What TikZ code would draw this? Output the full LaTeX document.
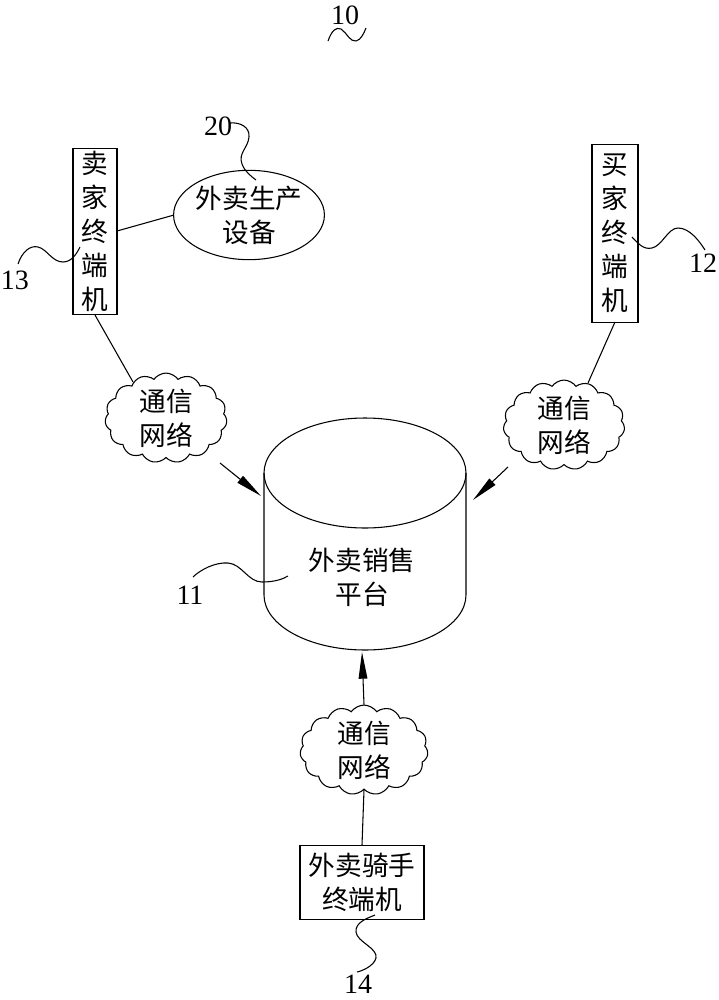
\documentclass[tikz,border=0pt]{standalone}
\usepackage{fontspec}
\setmainfont{Liberation Serif}
\newfontfamily\cjk{Noto Sans CJK SC}
\usetikzlibrary{shapes.symbols,shapes.geometric,arrows.meta}
\begin{document}
\begin{tikzpicture}[x=0.75pt,y=-0.75pt,
  wire/.style={line width=0.8pt},
  arr/.style={wire,-{Triangle[length=20pt,width=6.5pt]}},
  num/.style={font=\fontsize{21}{21}\selectfont, inner sep=0pt},
  cn/.style={font=\cjk\fontsize{20}{25.5}\selectfont, align=center, inner sep=0pt},
  box/.style={cn, draw, line width=0.8pt},
  netcloud/.style={cn, draw, line width=0.8pt, cloud, cloud puffs=15, cloud puff arc=110},
]
\useasboundingbox (0,0) rectangle (718,1000);

% nodes
\node[box, minimum width=33pt, minimum height=125pt] (seller) at (95,231.5) {卖\\家\\终\\端\\机};
\node[box, minimum width=34.5pt, minimum height=133pt] (buyer) at (615,233.5) {买\\家\\终\\端\\机};
\node[cn, draw, line width=0.8pt, ellipse, minimum width=112pt, minimum height=67pt] (prod) at (249,215) {外卖生产\\设备};
\node[netcloud, minimum width=91.5pt, minimum height=60pt] (netL) at (166,418) {通信\\网络};
\node[netcloud, minimum width=91pt, minimum height=64pt] (netR) at (564,425) {通信\\网络};
\node[netcloud, minimum width=96pt, minimum height=57pt] (netB) at (364,750) {通信\\网络};
\node[box, minimum width=93pt, minimum height=55pt] (rider) at (362,882.5) {外卖骑手\\终端机};

% platform cylinder
\draw[wire] (365,473) ellipse [x radius=101, y radius=55];
\draw[wire] (264,473) -- (264,595) .. controls (264,625.4) and (309.2,650) .. (365,650)
  .. controls (420.8,650) and (466,625.4) .. (466,595) -- (466,473);
\node[cn] (plat) at (362,577) {外卖销售\\平台};

% anchor coordinates
\coordinate (cylL) at (261,496);
\coordinate (cylR) at (473,500);
\coordinate (cylB) at (362,652);
\coordinate (netLout) at (220,463);
\coordinate (netRout) at (508,467);
\coordinate (netLin) at (133,382);
\coordinate (netRin) at (588,383);
\coordinate (sellerB) at (95,315);
\coordinate (buyerB) at (615,322);
\coordinate (sellerR) at (117,231);
\coordinate (prodL) at (174,215);

% connectors
\draw[wire] (sellerR) -- (prodL);
\draw[wire] (sellerB) -- (netLin);
\draw[wire] (buyerB) -- (netRin);
\draw[arr] (netLout) -- (cylL);
\draw[arr] (netRout) -- (cylR);
\draw[arr] (netB.north) -- (cylB);
\draw[wire] (rider.north) -- (netB.south);

% reference numerals
\node[num] (n10) at (345,15) {10};
\node[num] (n20) at (218,126) {20};
\node[num] (n13) at (15,280) {13};
\node[num] (n12) at (703,263) {12};
\node[num] (n11) at (190,595) {11};
\node[num] (n14) at (358,984) {14};

\draw[wire] (328,41) .. controls (332,30) and (336,27) .. (341,29)
  .. controls (347,33) and (350,42) .. (356,41)
  .. controls (361,40) and (364,33) .. (366,28);
\draw[wire] (230,123) .. controls (240,122) and (250,127) .. (249,137)
  .. controls (248,148) and (238,153) .. (242,164)
  .. controls (245,172) and (251,176) .. (256,180);
\draw[wire] (18,264) .. controls (22,252) and (30,245) .. (38,247)
  .. controls (47,249) and (52,262) .. (63,262)
  .. controls (72,262) and (77,253) .. (80,247);
\draw[wire] (632,237) .. controls (638,243) and (643,250) .. (652,248)
  .. controls (662,246) and (668,228) .. (678,228)
  .. controls (690,228) and (700,242) .. (705,250);
\draw[wire] (193,577) .. controls (200,570) and (215,562) .. (228,563)
  .. controls (242,564) and (248,582) .. (262,582)
  .. controls (275,582) and (283,579) .. (288,576);
\draw[wire] (375,915) .. controls (368,918) and (355,922) .. (356,932)
  .. controls (357,942) and (378,948) .. (376,958)
  .. controls (374,966) and (362,971) .. (357,972);
\end{tikzpicture}
\end{document}
